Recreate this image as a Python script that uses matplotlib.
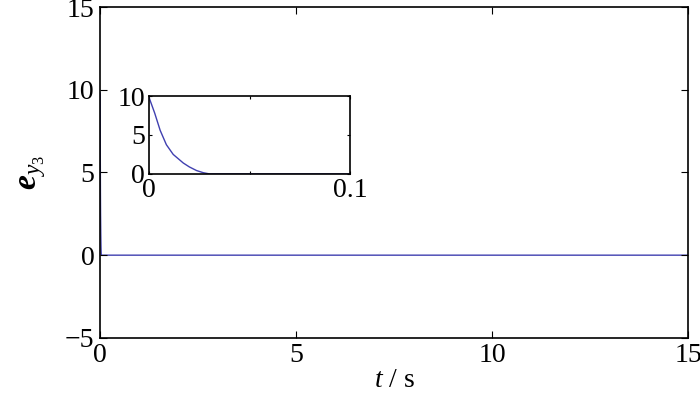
import matplotlib.pyplot as plt

plt.rcParams['font.family'] = 'Liberation Serif'
plt.rcParams['mathtext.fontset'] = 'custom'
plt.rcParams['mathtext.rm'] = 'Liberation Serif'
plt.rcParams['mathtext.it'] = 'Liberation Serif:italic'
plt.rcParams['mathtext.bf'] = 'Liberation Serif:italic:bold'

# error signal e_y3
t = [0, 0.0028, 0.0055, 0.0086, 0.012, 0.017, 0.020, 0.0236, 0.027, 0.030, 0.05, 0.1, 1, 5, 10, 15]
e = [9.8, 7.8, 5.6, 3.75, 2.5, 1.4, 0.9, 0.43, 0.15, 0.0, 0.0, 0.0, 0.0, 0.0, 0.0, 0.0]

main_xticks = [0, 5, 10, 15]
main_yticks = [-5, 0, 5, 10, 15]
ins_xticks = [0, 0.05, 0.1]
ins_xlabels = ['0', '', '0.1']
ins_yticks = [0, 5, 10]

line_color = '#4040b0'

fig = plt.figure(figsize=(7, 3.97), dpi=100)
ax = fig.add_axes([0.143, 0.149, 0.84, 0.833])
ax.plot(t, e, color=line_color, lw=1, zorder=1)
ax.set_xlim(0, 15)
ax.set_ylim(-5, 15)
ax.set_xticks(main_xticks)
ax.set_yticks(main_yticks)
ax.set_yticklabels(['\u22125', '0', '5', '10', '15'])
ax.tick_params(direction='in', top=True, right=True, labelsize=20, length=5, pad=4)
ax.set_xlabel('$t$ / s', fontsize=20, labelpad=0)
ax.set_ylabel(r'$\mathbf{e}_{y_3}$', fontsize=24, labelpad=12)
for s in ax.spines.values():
    s.set_linewidth(1.2)

ins = fig.add_axes([0.213, 0.562, 0.287, 0.196])
ins.plot(t, e, color=line_color, lw=1)
ins.set_xlim(0, 0.1)
ins.set_ylim(0, 10)
ins.set_xticks(ins_xticks)
ins.set_xticklabels(ins_xlabels)
ins.set_yticks(ins_yticks)
ins.tick_params(direction='in', top=True, right=True, labelsize=20, length=2, pad=3)
for s in ins.spines.values():
    s.set_linewidth(1.2)

fig.savefig('out.png', dpi=100)
